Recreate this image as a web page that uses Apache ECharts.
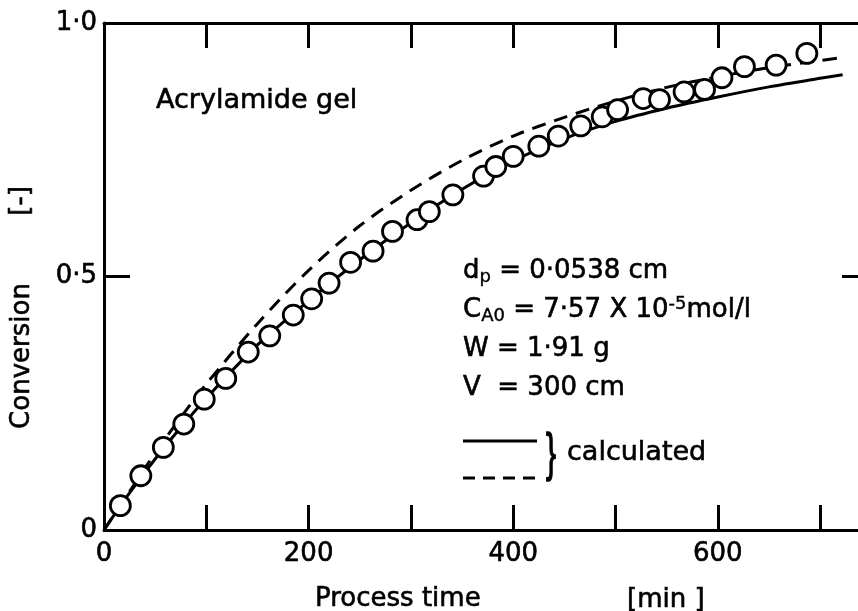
<!DOCTYPE html>
<html>
<head>
<meta charset="utf-8">
<script src="https://cdn.jsdelivr.net/npm/echarts@6/dist/echarts.min.js"></script>
<style>
html, body { margin: 0; padding: 0; background: #fff; }
#chart { width: 858px; height: 611px; }
</style>
</head>
<body>
<div id="chart"></div>
<script>
// measured points (open circles)
var timeObs = [16, 36, 58, 78, 98, 119, 141, 162, 185, 203, 220, 241, 263, 282, 306, 318, 341, 371, 383, 400,
    425, 444, 466, 487, 502, 527, 543, 567, 587, 604, 626, 657, 687];
var convObs = [0.048, 0.107, 0.163, 0.209, 0.258, 0.299, 0.351, 0.383, 0.424, 0.456, 0.487, 0.528, 0.55, 0.589, 0.612, 0.628, 0.661, 0.698, 0.717, 0.737,
    0.757, 0.777, 0.797, 0.815, 0.829, 0.851, 0.849, 0.864, 0.869, 0.892, 0.914, 0.917, 0.94];

// calculated curves
var timeCalc = [0, 25, 50, 75, 100, 150, 200, 250, 300, 350, 400, 450, 500, 550, 600, 650, 700, 722];
var convSolid = [0, 0.073, 0.14, 0.202, 0.26, 0.365, 0.452, 0.533, 0.606, 0.672, 0.728, 0.772, 0.806, 0.832, 0.854, 0.874, 0.891, 0.898];
var convDashed = [0, 0.076, 0.152, 0.222, 0.288, 0.407, 0.512, 0.6, 0.67, 0.729, 0.777, 0.814, 0.846, 0.873, 0.894, 0.912, 0.926, 0.932];

var xTickValues = [100, 200, 300, 400, 500, 600, 700];
var xLabelValues = [0, 200, 400, 600];
var yTickValues = [0.5];
var yLabelText = { 0: '0', 0.5: '0·5', 1: '1·0' };

var FONT = '"DejaVu Sans", sans-serif';

function pairs(xs, ys) {
    return xs.map(function (x, i) { return [x, ys[i]]; });
}

function txt(x, y, s, size, align) {
    return {
        type: 'text', x: x, y: y,
        style: {
            text: s, font: size + 'px ' + FONT, fill: '#000', stroke: '#000', lineWidth: 0.6,
            align: align || 'left', verticalAlign: 'middle'
        }
    };
}

var myChart = echarts.init(document.getElementById('chart'));

var xCommon = {
    type: 'value',
    min: 0,
    max: 737,
    interval: 100,
    axisLine: { show: true, onZero: false, lineStyle: { color: '#000', width: 3 } },
    axisTick: { show: true, inside: true, length: 25, customValues: xTickValues, lineStyle: { color: '#000', width: 3 } },
    splitLine: { show: false }
};
var yCommon = {
    type: 'value',
    min: 0,
    max: 1,
    interval: 0.5,
    axisLine: { show: true, onZero: false, lineStyle: { color: '#000', width: 3 } },
    axisTick: { show: true, inside: true, length: 26, customValues: yTickValues, lineStyle: { color: '#000', width: 3 } },
    splitLine: { show: false }
};

var rotTitle = function (x, y, s) {
    var t = txt(x, y, s, 26, 'center');
    t.rotation = Math.PI / 2;
    return t;
};

var richStyle = {
    m: { font: '26px ' + FONT, lineHeight: 30, stroke: '#000', lineWidth: 0.6 },
    s: { font: '18px ' + FONT, lineHeight: 15, verticalAlign: 'bottom', stroke: '#000', lineWidth: 0.4 },
    u: { font: '18px ' + FONT, lineHeight: 12, verticalAlign: 'top', stroke: '#000', lineWidth: 0.4 }
};

var option = {
    animation: false,
    backgroundColor: '#fff',
    grid: { left: 104, top: 23, width: 754, height: 507 },
    xAxis: [
        Object.assign({}, xCommon, {
            position: 'bottom',
            axisLabel: {
                margin: 11,
                color: '#000',
                fontSize: 26,
                fontFamily: FONT,
                textBorderColor: '#000',
                textBorderWidth: 0.6,
                customValues: xLabelValues,
                formatter: function (v) { return String(v); }
            }
        }),
        Object.assign({}, xCommon, { position: 'top', axisLabel: { show: false } })
    ],
    yAxis: [
        Object.assign({}, yCommon, {
            position: 'left',
            axisLabel: {
                margin: 7,
                color: '#000',
                fontSize: 26,
                fontFamily: FONT,
                textBorderColor: '#000',
                textBorderWidth: 0.6,
                formatter: function (v) { return yLabelText[v] || ''; }
            }
        }),
        Object.assign({}, yCommon, {
            position: 'right',
            axisLine: { show: false, onZero: false },
            axisTick: { show: true, inside: true, length: 16, customValues: yTickValues, lineStyle: { color: '#000', width: 3 } },
            axisLabel: { show: false }
        })
    ],
    series: [
        {
            type: 'line',
            data: pairs(timeCalc, convSolid),
            smooth: 0.3,
            showSymbol: false,
            lineStyle: { color: '#000', width: 3 },
            z: 2
        },
        {
            type: 'line',
            data: pairs(timeCalc, convDashed),
            smooth: 0.3,
            showSymbol: false,
            lineStyle: { color: '#000', width: 3, type: [14, 9] },
            z: 2
        },
        {
            type: 'scatter',
            data: pairs(timeObs, convObs),
            symbol: 'circle',
            symbolSize: 20,
            itemStyle: { color: '#fff', borderColor: '#000', borderWidth: 2.8, opacity: 1 },
            z: 5
        }
    ],
    graphic: [
        txt(156, 101, 'Acrylamide gel', 27),
        txt(315, 599, 'Process time', 26),
        txt(627, 600, '[min ]', 26),
        rotTitle(22, 356, 'Conversion'),
        rotTitle(21, 201, '[-]'),
        {
            type: 'text', x: 463, y: 271,
            style: {
                text: '{m|d}{s|p}{m| = 0·0538 cm}', fill: '#000', align: 'left', verticalAlign: 'middle',
                rich: richStyle
            }
        },
        {
            type: 'text', x: 463, y: 310,
            style: {
                text: '{m|C}{s|A0}{m| = 7·57 X 10}{u|-5}{m|mol/l}', fill: '#000', align: 'left', verticalAlign: 'middle',
                rich: richStyle
            }
        },
        txt(463, 349, 'W = 1·91 g', 26),
        txt(463, 388, 'V  = 300 cm', 26),
        {
            type: 'line', shape: { x1: 463, y1: 441, x2: 537, y2: 441 },
            style: { stroke: '#000', lineWidth: 3 }
        },
        {
            type: 'line', shape: { x1: 463, y1: 478, x2: 537, y2: 478 },
            style: { stroke: '#000', lineWidth: 3, lineDash: [12, 8] }
        },
        {
            type: 'text', x: 551, y: 456, scaleY: 1.7,
            style: { text: '}', font: '30px "Liberation Sans"', fill: '#000', stroke: '#000', lineWidth: 0.8, align: 'center', verticalAlign: 'middle' }
        },
        txt(567, 453, 'calculated', 27)
    ]
};

myChart.setOption(option);
</script>
</body>
</html>
